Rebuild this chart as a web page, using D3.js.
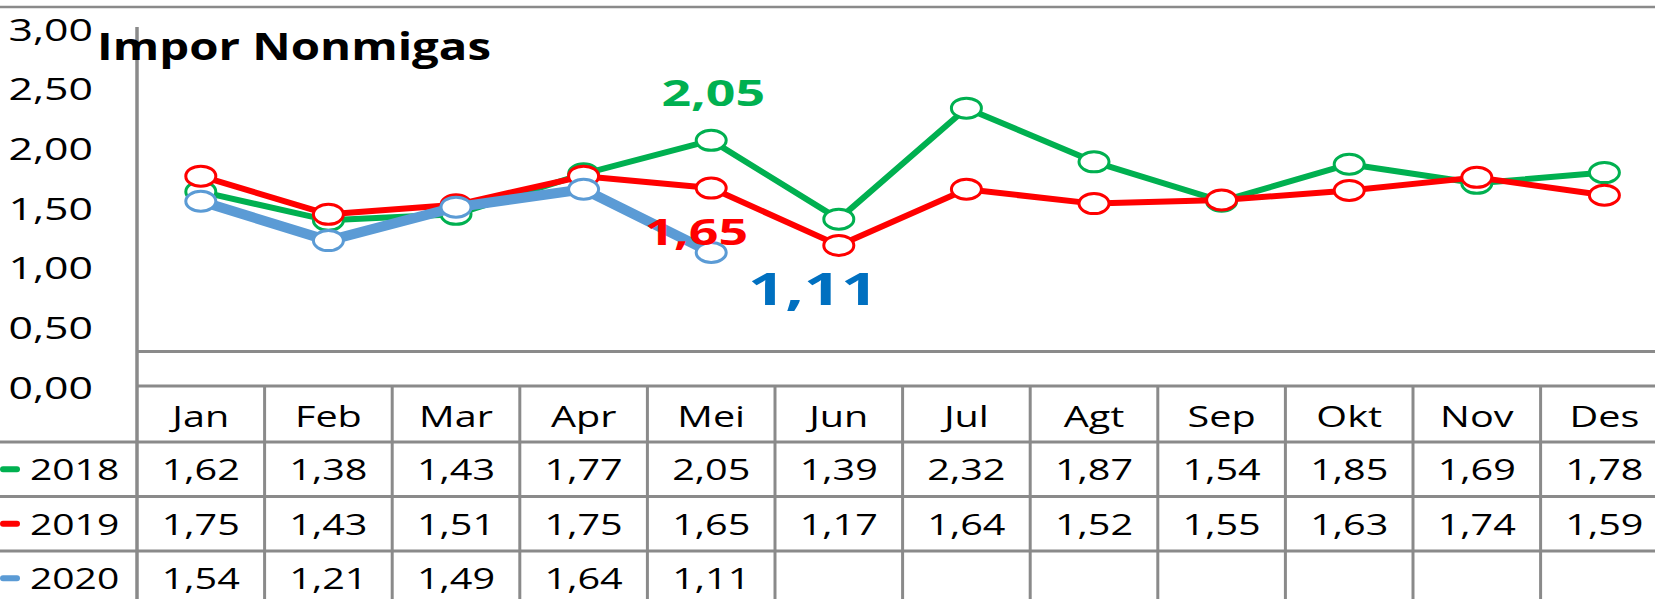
<!DOCTYPE html>
<html>
<head>
<meta charset="utf-8">
<script src="https://cdn.jsdelivr.net/npm/d3@7"></script>
<style>
  html, body { margin: 0; padding: 0; background: #fff; }
  svg { display: block; }
  text { font-family: "Open Sans", sans-serif; }
</style>
</head>
<body>
<svg id="chart" width="1655" height="599"></svg>
<script>
// ---- data ----
const months = ["Jan","Feb","Mar","Apr","Mei","Jun","Jul","Agt","Sep","Okt","Nov","Des"];
const seriesNames = ["2018","2019","2020"];
const values2018 = [1.62,1.38,1.43,1.77,2.05,1.39,2.32,1.87,1.54,1.85,1.69,1.78];
const values2019 = [1.75,1.43,1.51,1.75,1.65,1.17,1.64,1.52,1.55,1.63,1.74,1.59];
const values2020 = [1.54,1.21,1.49,1.64,1.11];
const yTicks = [0,0.5,1,1.5,2,2.5,3];
const title = "Impor Nonmigas";
const seriesColors = ["#00B050","#FF0000","#5B9BD5"];
const seriesLineWidths = [6,6,10];
// highlighted data labels: series index, month index
const calloutSeries = [0,1,2];
const calloutMonth = [4,4,4];

const allSeries = [values2018, values2019, values2020];
const fmt = v => d3.format(".2f")(v).replace(".", ",");

// ---- layout ----
const W = 1655, H = 599;
const left = 137, colW = 127.6;
const grid = "#8a8a8a";
const svg = d3.select("#chart");

const x = d3.scaleBand().domain(months).range([left, left + colW * months.length]).padding(0);
const y = d3.scaleLinear().domain([0, 3]).range([385, 27]);

function stext(g, px, py, str, o) {
  return g.append("text")
    .attr("transform", `translate(${px},${py}) scale(${o.sx || 1.32},1)`)
    .attr("text-anchor", o.anchor || "middle")
    .attr("dy", "0.36em")
    .attr("font-size", o.size || 30)
    .attr("font-weight", o.weight || "normal")
    .attr("fill", o.fill || "#000")
    .text(str);
}

// frame lines
svg.append("line").attr("x1", 0).attr("x2", W).attr("y1", 7).attr("y2", 7)
  .attr("stroke", grid).attr("stroke-width", 2.5);
svg.append("line").attr("x1", left).attr("x2", left).attr("y1", 27).attr("y2", H)
  .attr("stroke", grid).attr("stroke-width", 3.5);
svg.append("line").attr("x1", left).attr("x2", W).attr("y1", 351.5).attr("y2", 351.5)
  .attr("stroke", grid).attr("stroke-width", 3);

// y axis labels
const yAxis = d3.axisLeft(y).tickValues(yTicks).tickFormat(fmt).tickSize(0).tickPadding(0);
const ag = svg.append("g").attr("transform", "translate(93,2)").call(yAxis);
ag.select(".domain").remove();
ag.selectAll("text")
  .attr("x", 0).attr("dy", "0.36em")
  .attr("transform", "scale(1.38,1)")
  .attr("font-family", "'Open Sans', sans-serif")
  .attr("font-size", 31).attr("fill", "#000");

// title
stext(svg, 97, 47, title, { size: 37, weight: "bold", anchor: "start", sx: 1.28 });

// ---- data table ----
const rowTop = 386, headerH = 56, rowH = 54.5;
const rowY = i => rowTop + headerH + i * rowH;
const tg = svg.append("g");
// horizontal table lines
tg.append("line").attr("x1", left).attr("x2", W).attr("y1", rowTop).attr("y2", rowTop)
  .attr("stroke", grid).attr("stroke-width", 3);
seriesNames.forEach((s, i) => {
  tg.append("line").attr("x1", 0).attr("x2", W).attr("y1", rowY(i)).attr("y2", rowY(i))
    .attr("stroke", grid).attr("stroke-width", 3);
});
// vertical lines
months.forEach(m => {
  tg.append("line").attr("x1", x(m) + colW).attr("x2", x(m) + colW)
    .attr("y1", rowTop).attr("y2", H).attr("stroke", grid).attr("stroke-width", 3);
});
// headers
months.forEach(m => stext(tg, x(m) + colW / 2, rowTop + headerH / 2 + 2, m, { size: 30 }));
// rows
allSeries.forEach((vals, si) => {
  const cy = rowY(si) + rowH / 2;
  tg.append("line").attr("x1", 3).attr("x2", 17).attr("y1", cy).attr("y2", cy)
    .attr("stroke", seriesColors[si]).attr("stroke-width", 6).attr("stroke-linecap", "round");
  stext(tg, 30, cy, seriesNames[si], { size: 30, anchor: "start", sx: 1.3 });
  vals.forEach((v, mi) => stext(tg, x(months[mi]) + colW / 2, cy, fmt(v), { size: 30 }));
});

// ---- lines & markers ----
const line = d3.line().x((d, i) => x(months[i]) + colW / 2).y(d => y(d));
allSeries.forEach((vals, si) => {
  const g = svg.append("g");
  g.append("path").datum(vals).attr("d", line).attr("fill", "none")
    .attr("stroke", seriesColors[si]).attr("stroke-width", seriesLineWidths[si])
    .attr("stroke-linejoin", "round");
  g.selectAll("ellipse").data(vals).join("ellipse")
    .attr("cx", (d, i) => x(months[i]) + colW / 2)
    .attr("cy", d => y(d))
    .attr("rx", 15).attr("ry", 10)
    .attr("fill", "#fff")
    .attr("stroke", seriesColors[si]).attr("stroke-width", 3);
});

// ---- callout labels ----
const calloutColors = ["#00B050","#FF0000","#0070C0"];
const calloutSizes = [35, 35, 44];
const calloutDx = [2, -15, 102];
const calloutDy = [-47, 44, 37];
calloutSeries.forEach((si, k) => {
  const mi = calloutMonth[k];
  const v = allSeries[si][mi];
  stext(svg, x(months[mi]) + colW / 2 + calloutDx[k], y(v) + calloutDy[k], fmt(v),
    { size: calloutSizes[k], weight: "bold", fill: calloutColors[k], sx: 1.48 });
});
</script>
</body>
</html>
